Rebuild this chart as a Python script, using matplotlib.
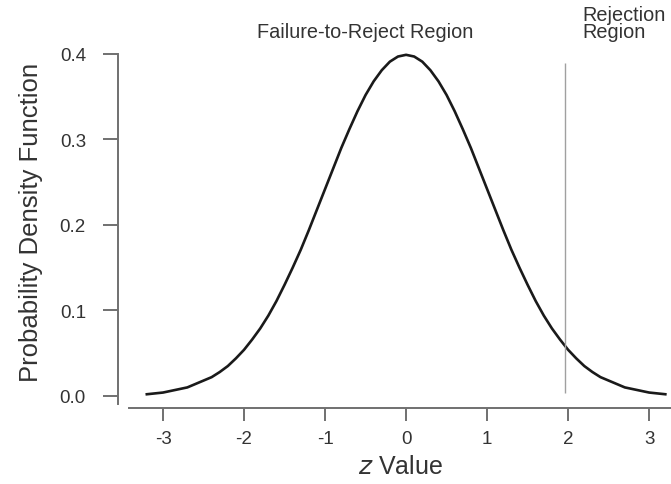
import matplotlib
matplotlib.use('Agg')
import matplotlib.pyplot as plt

# standard normal density, read at z = -3.2 ... 3.2 in steps of 0.1
z_values = [-3.2, -3.1, -3.0, -2.9, -2.8, -2.7, -2.6, -2.5, -2.4, -2.3, -2.2,
            -2.1, -2.0, -1.9, -1.8, -1.7, -1.6, -1.5, -1.4, -1.3, -1.2, -1.1,
            -1.0, -0.9, -0.8, -0.7, -0.6, -0.5, -0.4, -0.3, -0.2, -0.1, 0.0,
            0.1, 0.2, 0.3, 0.4, 0.5, 0.6, 0.7, 0.8, 0.9, 1.0, 1.1, 1.2, 1.3,
            1.4, 1.5, 1.6, 1.7, 1.8, 1.9, 2.0, 2.1, 2.2, 2.3, 2.4, 2.5, 2.6,
            2.7, 2.8, 2.9, 3.0, 3.1, 3.2]
density = [0.002, 0.003, 0.004, 0.006, 0.008, 0.010, 0.014, 0.018, 0.022, 0.028, 0.035,
           0.044, 0.054, 0.066, 0.079, 0.094, 0.111, 0.130, 0.150, 0.171, 0.194, 0.218,
           0.242, 0.266, 0.290, 0.312, 0.333, 0.352, 0.368, 0.381, 0.391, 0.397, 0.399,
           0.397, 0.391, 0.381, 0.368, 0.352, 0.333, 0.312, 0.290, 0.266, 0.242, 0.218,
           0.194, 0.171, 0.150, 0.130, 0.111, 0.094, 0.079, 0.066, 0.054, 0.044, 0.035,
           0.028, 0.022, 0.018, 0.014, 0.010, 0.008, 0.006, 0.004, 0.003, 0.002]
z_crit = 1.96
x_ticks = [-3, -2, -1, 0, 1, 2, 3]
y_ticks = [0.0, 0.1, 0.2, 0.3, 0.4]

plt.rcParams['font.family'] = ['Liberation Sans', 'DejaVu Sans']
text_col = '#333333'
axis_col = '#707070'

W, H = 671, 485
fig = plt.figure(figsize=(W / 100, H / 100), dpi=100)
# plot region in pixels: left 129, right 671, top 40, bottom 405
ax = fig.add_axes([129 / W, 1 - 405 / H, (671 - 129) / W, (405 - 40) / H])

ax.plot(z_values, density, color='#1a1a1a', linewidth=1.9)
ax.vlines(z_crit, 0.004, 0.39, color='#a0a0a0', linewidth=1.0)

ax.set_xlim(-3.42, 3.27)
ax.set_ylim(-0.0094, 0.4175)

for side in ['top', 'right']:
    ax.spines[side].set_visible(False)
ax.spines['left'].set_position(('outward', 8))
ax.spines['bottom'].set_position(('outward', 3))
ax.spines['left'].set_bounds(-0.0094, 0.4)
for side in ['left', 'bottom']:
    ax.spines[side].set_color(axis_col)
    ax.spines[side].set_linewidth(1.4)

ax.set_xticks(x_ticks)
ax.set_xticklabels([str(t) for t in x_ticks])
ax.set_yticks(y_ticks)
ax.set_yticklabels(['%.1f' % t for t in y_ticks])
ax.tick_params(axis='both', colors=axis_col, labelcolor=text_col, labelsize=13.5,
               width=1.4)
ax.tick_params(axis='x', length=9, pad=7)
ax.tick_params(axis='y', length=11, pad=12)

ax.set_xlabel(r'$z$ Value', fontsize=18, color=text_col, labelpad=5)
ax.set_ylabel('Probability Density Function', fontsize=18.5, color=text_col, labelpad=12)

fig.text(365 / W, 1 - 32 / H, 'Failure-to-Reject Region', ha='center', va='center',
         fontsize=14.3, color=text_col)
fig.text(582 / W, 1 - 6 / H, 'Rejection\nRegion', ha='left', va='top',
         fontsize=14.3, color=text_col, linespacing=0.85)

fig.savefig('out.png', dpi=100)
